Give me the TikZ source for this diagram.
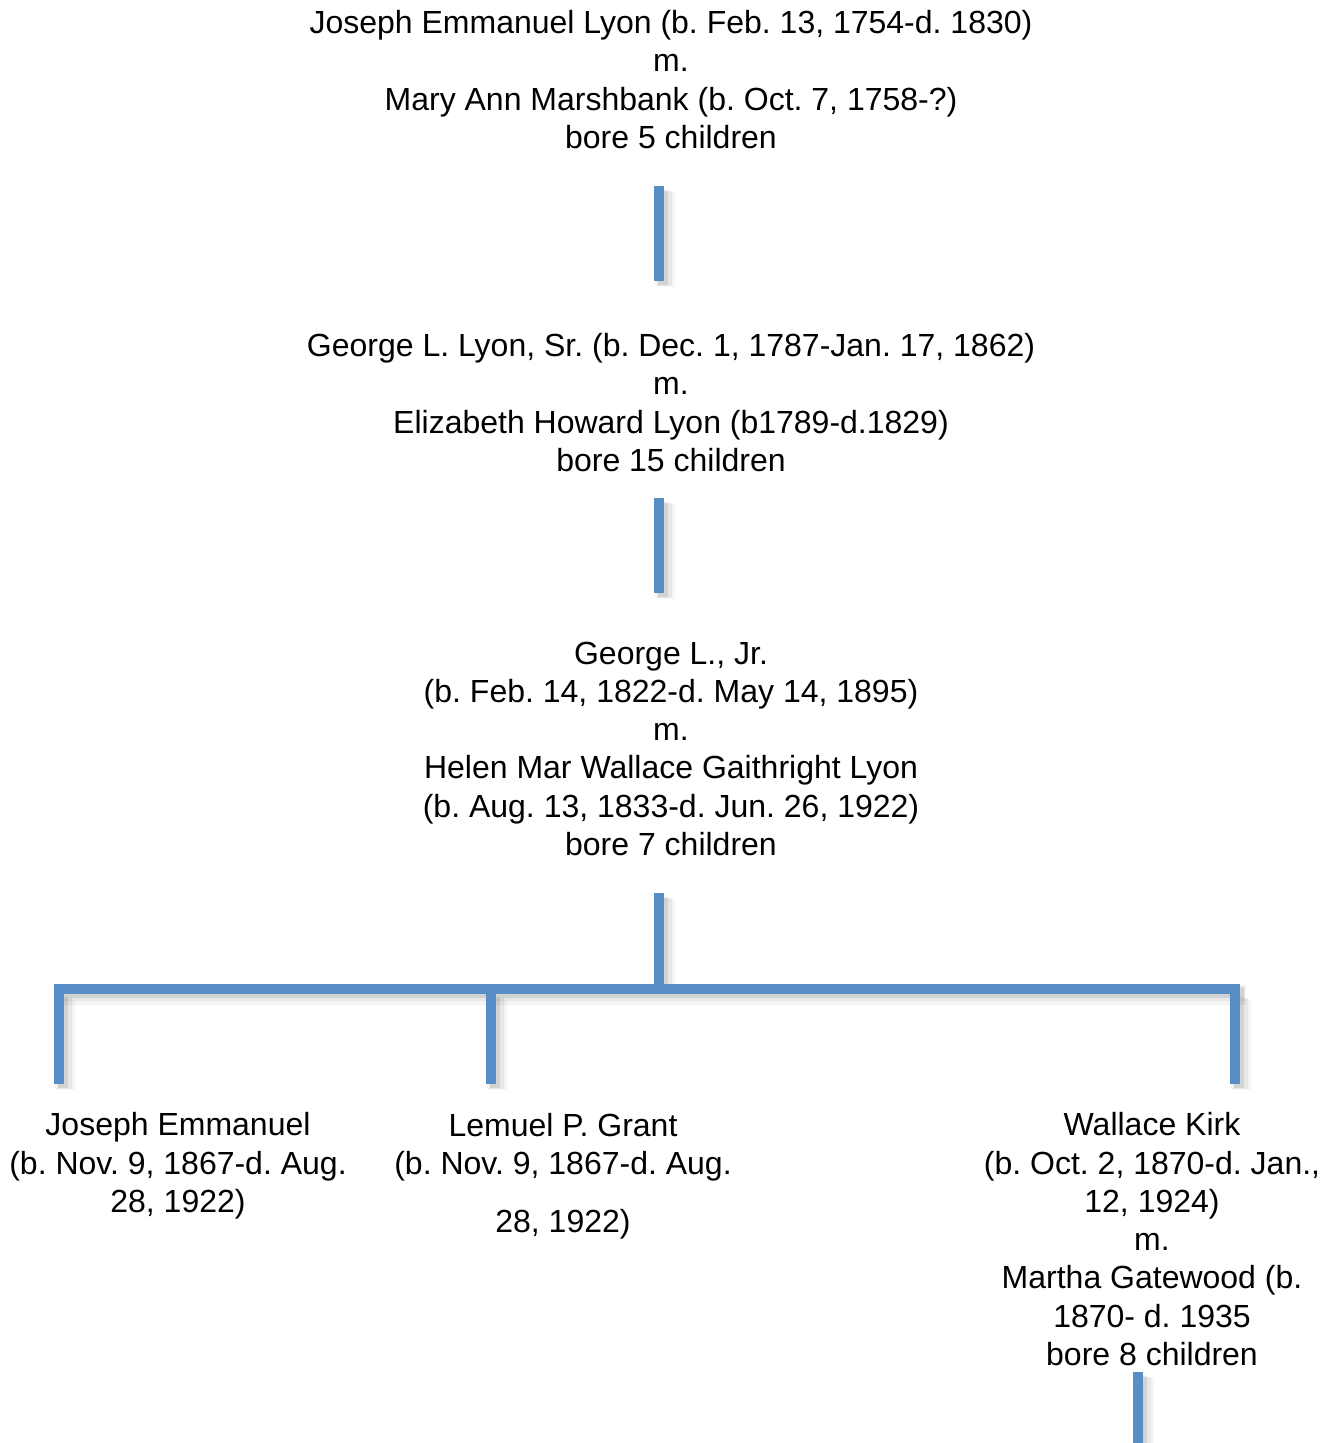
\documentclass[tikz,border=0pt]{standalone}
\usepackage{fontspec}
\setmainfont{Liberation Sans}
\usetikzlibrary{positioning}
\definecolor{LineBlue}{RGB}{88,142,200}

\tikzset{
	person/.style={align=center, inner sep=0pt, anchor=base, font=\fontsize{16}{19.15}\selectfont\frenchspacing},
	branch/.style={draw=LineBlue, line width=5pt,
		preaction={draw=black, opacity=0.04, line width=10pt, transform canvas={shift={(3pt,-3pt)}}},
		preaction={draw=black, opacity=0.06, line width=7.5pt, transform canvas={shift={(2.6pt,-2.6pt)}}},
		preaction={draw=black, opacity=0.09, line width=5pt, transform canvas={shift={(2pt,-2pt)}}}},
}

\begin{document}
\begin{tikzpicture}[x=0.5pt, y=-0.5pt]
			\useasboundingbox (0,0) rectangle (1335,1443);
			
			% PEOPLE (placed at the baseline of their last line)
			\node[person] (LyonTop) at (671,148.5) {Joseph Emmanuel Lyon (b. Feb. 13, 1754-d. 1830)\\m.\\Mary Ann Marshbank (b. Oct. 7, 1758-?)\\bore 5 children};
			\node[person] (LyonSr) at (671,471.5) {George L. Lyon, Sr. (b. Dec. 1, 1787-Jan. 17, 1862)\\m.\\Elizabeth Howard Lyon (b1789-d.1829)\\bore 15 children};
			\node[person] (LyonJr) at (671,855.5) {George L., Jr.\\(b. Feb. 14, 1822-d. May 14, 1895)\\m.\\Helen Mar Wallace Gaithright Lyon\\(b. Aug. 13, 1833-d. Jun. 26, 1922)\\bore 7 children};
			\node[person] (JosephE) at (178,1212.5) {Joseph Emmanuel\\(b. Nov. 9, 1867-d. Aug.\\28, 1922)};
			\node[person] (LemuelG) at (563,1232.5) {Lemuel P. Grant\\(b. Nov. 9, 1867-d. Aug.\\[9.8pt]28, 1922)};
			\node[person] (WallaceK) at (1152,1365.5) {Wallace Kirk\\(b. Oct. 2, 1870-d. Jan.,\\12, 1924)\\m.\\Martha Gatewood (b.\\1870- d. 1935\\bore 8 children};
			
			% JOINTS
			\coordinate (TopDown) at (659,186);
			\coordinate (SrUp) at (659,281);
			\coordinate (SrDown) at (659,498);
			\coordinate (JrUp) at (659,593);
			\coordinate (JrDown) at (659,893);
			\coordinate (BarMid) at (659,984);
			\coordinate (BarLeft) at (54,988.5);
			\coordinate (BarRight) at (1240,988.5);
			\coordinate (JosephTop) at (59,993);
			\coordinate (JosephUp) at (59,1084);
			\coordinate (LemuelTop) at (491,993);
			\coordinate (LemuelUp) at (491,1084);
			\coordinate (WallaceTop) at (1235,993);
			\coordinate (WallaceUp) at (1235,1084);
			\coordinate (WallaceDown) at (1138,1372);
			\coordinate (NextGen) at (1138,1450);
			
			% LINES
			\draw[branch] (TopDown) -- (SrUp);
			\draw[branch] (SrDown) -- (JrUp);
			\draw[branch] (JrDown) -- (BarMid);
			\draw[branch] (BarLeft) -- (BarRight);
			\draw[branch] (JosephTop) -- (JosephUp);
			\draw[branch] (LemuelTop) -- (LemuelUp);
			\draw[branch] (WallaceTop) -- (WallaceUp);
			\draw[branch] (WallaceDown) -- (NextGen);
\end{tikzpicture}
\end{document}
